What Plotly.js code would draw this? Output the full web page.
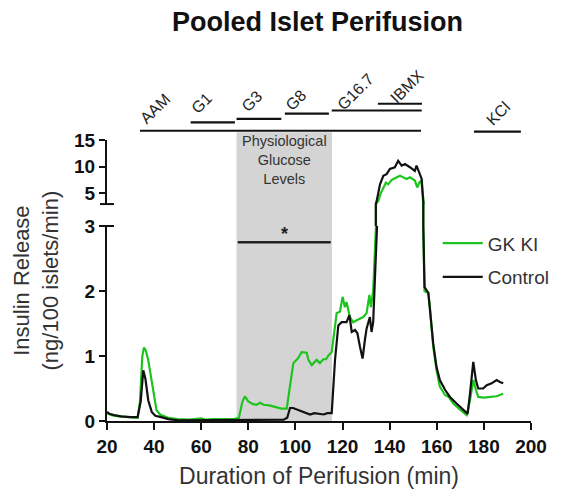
<!DOCTYPE html>
<html>
<head>
<meta charset="utf-8">
<script src="https://cdn.plot.ly/plotly-3.0.1.min.js"></script>
<style>html,body{margin:0;padding:0;background:#fff;}#chart{width:561px;height:494px;}</style>
</head>
<body>
<div id="chart"></div>
<script>
// ---- data ----
const gkTime = [20,22,25,28,31,33,34,35,35.7,36.5,37.5,38.5,39.7,41,42.5,44,46,50,55,60,62,65,70,74,76,77.5,78.6,80,82,83.5,85,86.5,89,92,94,96.3,97.7,99.1,101.2,102.6,104.8,105.5,106.9,108,109,110.4,111.8,113,114,115.4,116.5,117.5,118.9,120,121,121.7,123.1,124.5,126,127.4,128.8,130.2,131.4,132,133,134.2,135.2,136.2,137.3,138.4,139.4,140.8,142,143,144.4,145.8,147.2,148.6,150,150.7,151.7,152.6,153.4,154.2,154.8,156.4,157.1,158.5,159.9,161.3,163.5,165,167,170,172.7,174,175.5,176.6,177.6,180,183,185.4,188.2];
const gkInsulin = [0.12,0.09,0.07,0.06,0.05,0.05,0.3,1.0,1.13,1.08,0.94,0.7,0.43,0.17,0.1,0.08,0.05,0.03,0.02,0.04,0.02,0.03,0.03,0.03,0.05,0.3,0.38,0.3,0.26,0.25,0.28,0.25,0.24,0.21,0.19,0.19,0.58,0.89,0.97,1.06,1.05,0.94,0.86,0.9,0.94,0.89,0.95,0.95,1.01,1.06,1.4,1.66,1.68,1.91,1.75,1.83,1.6,1.52,1.55,1.58,1.6,1.66,1.94,1.75,2.0,3.0,3.6,5.0,6.1,7.0,6.7,7.5,7.8,8.0,8.3,8.0,7.7,8.0,7.7,7.4,6.1,7.0,7.4,3.0,2.0,1.97,1.75,1.14,0.78,0.53,0.4,0.37,0.27,0.17,0.09,0.3,0.63,0.48,0.37,0.36,0.37,0.38,0.42];
const ctrlTime = [20,21,23,26,30,33,34.3,35.4,36.3,37.5,39,40.5,43,46,50,55,60,65,70,75,80,85,90,95,96.5,97.7,99,101,103.3,106.2,108,110,112,113.5,115.4,116.8,118.2,119.6,121.7,122.9,123.9,125.3,126.3,127.4,128.5,129.5,130.2,131.6,132.3,133,133.8,134.5,135.9,137.3,138.7,140.1,142.2,143.6,145.1,146.5,148.6,150.7,151.4,152.9,153.6,154.3,154.8,156.4,157.1,158.5,159.9,161.3,163.5,165.6,168.4,171.2,173.1,174.1,175.5,176.6,177.6,179.7,181.2,183.3,185.4,186.8,188.2];
const ctrlInsulin = [0.14,0.11,0.09,0.07,0.06,0.06,0.3,0.78,0.65,0.32,0.14,0.08,0.06,0.03,0.01,0.01,0.01,0.02,0.01,0.01,0.02,0.02,0.02,0.02,0.05,0.2,0.2,0.17,0.14,0.1,0.12,0.11,0.1,0.12,0.12,0.94,1.47,1.52,1.52,1.63,1.37,1.4,1.35,1.14,0.96,1.25,1.42,1.6,1.37,1.52,2.5,3.6,6.7,8.3,8.6,9.6,9.9,11.1,10.2,10.5,9.9,9.2,10.2,8.6,7.7,3.0,2.06,1.97,1.7,1.19,0.83,0.63,0.48,0.37,0.27,0.17,0.11,0.42,0.91,0.63,0.5,0.5,0.55,0.58,0.63,0.6,0.58];

const seriesNames = ['GK KI','Control'];
const xTicks = [20,40,60,80,100,120,140,160,180,200];
const yLowTicks = [0,1,2,3];
const yHighTicks = [5,10,15];

const stageLabels = ['AAM','G1','G3','G8','G16.7','IBMX','KCl'];
const stageStart = [34, 55.5, 75, 95.5, 115.4, 135, 175.8];
const stageEnd   = [153.3, 74.3, 94, 114.2, 153.6, 153.7, 195.7];
const physioStart = 75, physioEnd = 115.5;
const sigLevel = 2.75;

// ---- styles ----
const FONT = 'Arial, "Liberation Sans", sans-serif';
const colors = ['#1ec41e', '#111111'];
const stageBarY = [1.033, 1.063, 1.075, 1.094, 1.105, 1.129, 1.030];
const stageLabelX = [40.6, 60.0, 81.3, 99.9, 125.7, 147.3, 186.0];
const stageLabelY = [1.111, 1.130, 1.138, 1.142, 1.171, 1.192, 1.096];

const series = [[gkTime, gkInsulin], [ctrlTime, ctrlInsulin]];
const traces = [];
['y','y2','y3'].forEach(function(ax){
  series.forEach(function(s, i){
    traces.push({
      x: s[0], y: s[1], type: 'scatter', mode: 'lines', yaxis: ax, xaxis: 'x',
      name: seriesNames[i], legendgroup: seriesNames[i],
      showlegend: ax === 'y',
      line: {color: colors[i], width: 2.2},
      hoverinfo: 'skip'
    });
  });
});

const shapes = [];
const annotations = [];
// physiological shading
shapes.push({type:'rect', xref:'x', yref:'paper', x0: physioStart, x1: physioEnd, y0: 0, y1: 1.028,
  fillcolor:'#d4d4d4', line:{width:0}, layer:'below'});
// stage bars + labels
stageLabels.forEach(function(lab, i){
  shapes.push({type:'line', xref:'x', yref:'paper', x0: stageStart[i], x1: stageEnd[i], y0: stageBarY[i], y1: stageBarY[i],
    line:{color:'#111', width:2.2}});
  annotations.push({text: lab, xref:'x', yref:'paper', x: stageLabelX[i], y: stageLabelY[i], showarrow:false,
    textangle:-45, xanchor:'center', yanchor:'middle', font:{family:FONT, size:16, color:'#222'}});
});
// significance line + star
shapes.push({type:'line', xref:'x', yref:'y', x0: physioStart + 0.5, x1: physioEnd - 0.5, y0: sigLevel, y1: sigLevel,
  line:{color:'#222', width:2.5}});
annotations.push({text:'*', xref:'x', yref:'y', x: (physioStart + physioEnd) / 2, y: sigLevel, yshift: 8, showarrow:false,
  xanchor:'center', yanchor:'middle', font:{family:FONT, size:18, color:'#222', weight:'bold'}});
annotations.push({text:'Physiological<br>Glucose<br>Levels', xref:'x', yref:'paper', x: (physioStart + physioEnd) / 2, y: 0.929,
  xanchor:'center', yanchor:'middle', showarrow:false, font:{family:FONT, size:14.5, color:'#333'}});
// axis break markers
[0.694, 0.772].forEach(function(yy){
  shapes.push({type:'line', xref:'paper', yref:'paper', x0:-0.0165, x1:0.0165, y0:yy, y1:yy, line:{color:'#111', width:2}});
});
// y title
annotations.push({text:'Insulin Release<br>(ng/100 islets/min)', xref:'paper', yref:'paper', x:-0.1675, y:0.5,
  xanchor:'center', yanchor:'middle', textangle:-90, showarrow:false, font:{family:FONT, size:22, color:'#333'}});

const tickFont = {family:FONT, size:19, color:'#111', weight:'bold'};
const layout = {
  width:561, height:494,
  margin:{l:107, r:30, t:140, b:73, autoexpand:false},
  paper_bgcolor:'#fff', plot_bgcolor:'rgba(0,0,0,0)',
  showlegend:true,
  title:{text:'<b>Pooled Islet Perifusion</b>', x:0.566, xanchor:'center', y:0.957, yanchor:'middle',
    font:{family:FONT, size:27, color:'#111'}},
  xaxis:{range:[20,200], tickvals:xTicks, ticks:'outside', ticklen:7, tickwidth:2, tickcolor:'#111',
    showline:true, linecolor:'#111', linewidth:2, showgrid:false, zeroline:false, anchor:'y', automargin:false,
    tickfont:tickFont, title:{text:'Duration of Perifusion (min)', font:{family:FONT, size:23, color:'#333'}, standoff:12}},
  yaxis:{domain:[0,0.694], range:[0,3], tickvals:yLowTicks, ticks:'outside', ticklen:6, tickwidth:2, tickcolor:'#111',
    showline:true, linecolor:'#111', linewidth:2, showgrid:false, zeroline:false, anchor:'x', automargin:false, tickfont:tickFont},
  yaxis2:{domain:[0.772,1], range:[3,15], tickvals:yHighTicks, ticks:'outside', ticklen:6, tickwidth:2, tickcolor:'#111',
    showline:true, linecolor:'#111', linewidth:2, showgrid:false, zeroline:false, anchor:'x', automargin:false, tickfont:tickFont},
  yaxis3:{domain:[0.694,0.772], range:[2.9999,3.0001], visible:false, anchor:'x'},
  legend:{x:0.78, y:0.70, xanchor:'left', yanchor:'top', bgcolor:'rgba(0,0,0,0)', itemwidth:40,
    traceorder:'grouped', tracegroupgap:6, font:{family:FONT, size:19, color:'#333'}},
  shapes:shapes, annotations:annotations
};
Plotly.newPlot('chart', traces, layout, {displayModeBar:false, staticPlot:true});
</script>
</body>
</html>
